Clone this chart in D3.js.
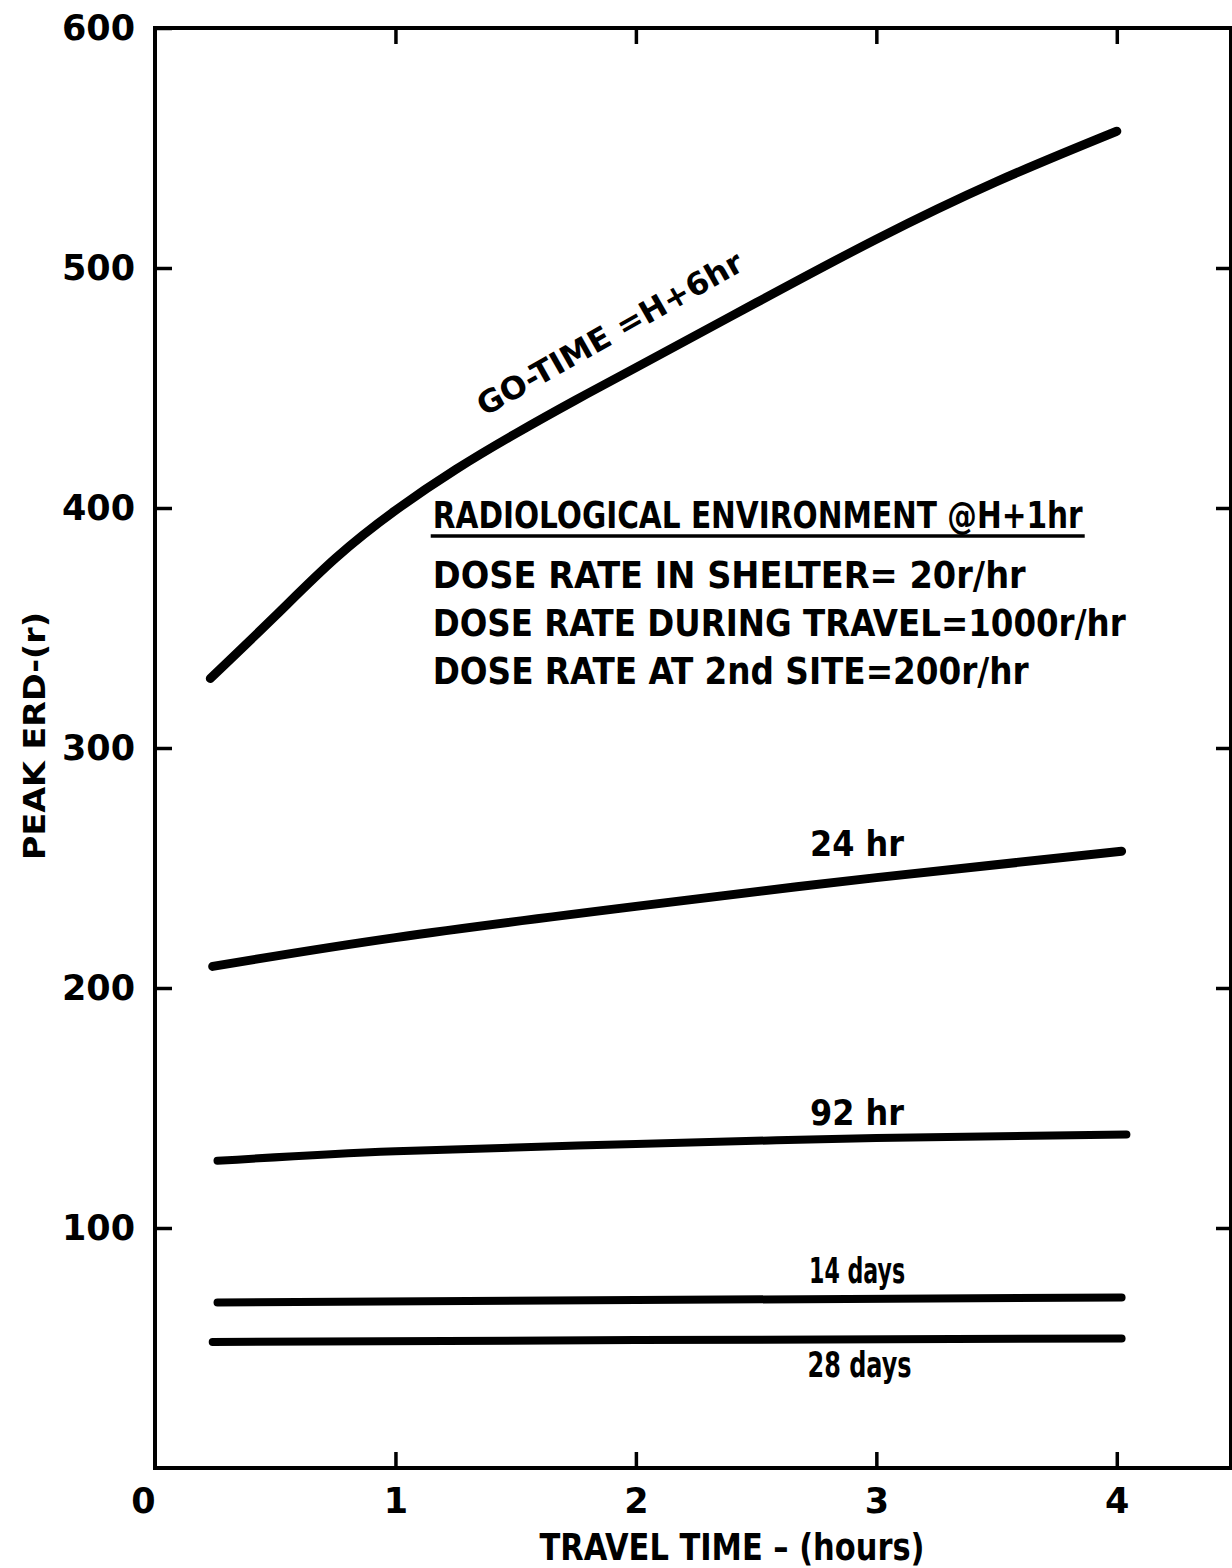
<!DOCTYPE html>
<html>
<head>
<meta charset="utf-8">
<script src="https://cdn.jsdelivr.net/npm/d3@7/dist/d3.min.js"></script>
<style>
  html, body { margin: 0; padding: 0; background: #fff; }
  svg { display: block; }
</style>
</head>
<body>
<svg id="chart" width="1232" height="1568"></svg>
<script>
// ---------------- DATA ----------------
const xTickValues = [0, 1, 2, 3, 4];
const xTickLabels = ["0", "1", "2", "3", "4"];
const yTickValues = [100, 200, 300, 400, 500, 600];
const yTickLabels = ["100", "200", "300", "400", "500", "600"];

const seriesNames = ["GO-TIME =H+6hr", "24 hr", "92 hr", "14 days", "28 days"];

const goTimeX = [0.23, 0.5, 0.75, 1.0, 1.25, 1.5, 1.75, 2.0, 2.5, 3.0, 3.5, 4.0];
const goTimeY = [329, 355, 379, 399, 416, 431, 445, 458.5, 485.5, 512, 536, 557];

const h24X = [0.24, 1.0, 2.0, 3.0, 4.02];
const h24Y = [209, 221, 234, 246, 257];

const h92X = [0.26, 1.0, 2.0, 3.0, 4.04];
const h92Y = [128, 132, 135, 137.5, 139];

const d14X = [0.26, 2.0, 4.02];
const d14Y = [69, 70, 71];

const d28X = [0.24, 2.0, 4.02];
const d28Y = [52.5, 53.3, 54];

const xTitle = "TRAVEL TIME – (hours)";
const yTitle = "PEAK ERD-(r)";
const noteLines = [
  "RADIOLOGICAL ENVIRONMENT @H+1hr",
  "DOSE RATE IN SHELTER= 20r/hr",
  "DOSE RATE DURING TRAVEL=1000r/hr",
  "DOSE RATE AT 2nd SITE=200r/hr"
];

// ---------------- CHART ----------------
const svg = d3.select("#chart");
const x = d3.scaleLinear().domain([0, 4.475]).range([155, 1231]);
const y = d3.scaleLinear().domain([0, 600]).range([1468, 28]);

const numFont = "'DejaVu Sans', 'Noto Sans', sans-serif";
const condFont = "'Liberation Sans Narrow', 'DejaVu Sans Condensed', 'Roboto Condensed', sans-serif";

// Frame
const frame = svg.append("g").attr("stroke", "#000").attr("stroke-width", 4).attr("fill", "none");
frame.append("path")
  .attr("d", `M${x(0)},${y(0)} L${x(0)},${y(600)} L${x(4.475)},${y(600)} L${x(4.475)},${y(0)} Z`)
  .attr("stroke-linejoin", "miter");

// Left axis (ticks pointing inward)
const yAxis = d3.axisLeft(y).tickValues(yTickValues)
  .tickFormat((d, i) => yTickLabels[i]).tickSize(-17).tickPadding(20);
const gy = svg.append("g").attr("transform", `translate(${x(0)},0)`).call(yAxis);
gy.select(".domain").remove();
gy.selectAll(".tick line").attr("stroke", "#000").attr("stroke-width", 3.5);
gy.selectAll(".tick text").attr("font-family", numFont).attr("font-weight", "bold")
  .attr("font-size", 35).attr("fill", "#000");

// Right ticks
const yAxisR = d3.axisRight(y).tickValues(yTickValues.slice(0, 5)).tickFormat("").tickSize(-15);
const gyr = svg.append("g").attr("transform", `translate(${x(4.475)},0)`).call(yAxisR);
gyr.select(".domain").remove();
gyr.selectAll(".tick line").attr("stroke", "#000").attr("stroke-width", 3.5);

// Bottom axis
const xAxis = d3.axisBottom(x).tickValues(xTickValues)
  .tickFormat((d, i) => xTickLabels[i]).tickSize(-16).tickPadding(20);
const gx = svg.append("g").attr("transform", `translate(0,${y(0)})`).call(xAxis);
gx.select(".domain").remove();
gx.selectAll(".tick line").attr("stroke", "#000").attr("stroke-width", 3.5);
gx.selectAll(".tick text").attr("font-family", numFont).attr("font-weight", "bold")
  .attr("font-size", 35).attr("fill", "#000");
gx.selectAll(".tick").filter(d => d === 0).select("text").attr("x", -12);
gx.selectAll(".tick").filter(d => d === 0).select("line").remove();

// Top ticks
const xAxisT = d3.axisTop(x).tickValues(xTickValues.slice(1)).tickFormat("").tickSize(-16);
const gxt = svg.append("g").attr("transform", `translate(0,${y(600)})`).call(xAxisT);
gxt.select(".domain").remove();
gxt.selectAll(".tick line").attr("stroke", "#000").attr("stroke-width", 3.5);

// Axis titles
svg.append("text").attr("x", 732).attr("y", 1560).attr("text-anchor", "middle")
  .attr("font-family", condFont).attr("font-weight", "bold").attr("font-size", 38)
  .attr("textLength", 385).attr("lengthAdjust", "spacingAndGlyphs").text(xTitle);
svg.append("text").attr("transform", "translate(45,736) rotate(-90)").attr("text-anchor", "middle")
  .attr("font-family", numFont).attr("font-weight", "bold").attr("font-size", 30)
  .attr("textLength", 248).attr("lengthAdjust", "spacingAndGlyphs").text(yTitle);

// Curves
const line = d3.line().x(d => x(d[0])).y(d => y(d[1])).curve(d3.curveNatural);
const series = [
  {xs: goTimeX, ys: goTimeY, w: 9},
  {xs: h24X, ys: h24Y, w: 9},
  {xs: h92X, ys: h92Y, w: 8},
  {xs: d14X, ys: d14Y, w: 8},
  {xs: d28X, ys: d28Y, w: 8}
];
svg.append("g").selectAll("path").data(series).join("path")
  .attr("d", s => line(s.xs.map((v, i) => [v, s.ys[i]])))
  .attr("fill", "none").attr("stroke", "#000")
  .attr("stroke-width", s => s.w).attr("stroke-linecap", "round").attr("stroke-linejoin", "round");

// Series labels
const labelPos = [
  null,
  {x: 2.92, y: 255, w: 94},
  {x: 2.92, y: 143, w: 94},
  {x: 2.92, y: 77, w: 96},
  {x: 2.93, y: 38, w: 104}
];
labelPos.forEach((p, i) => {
  if (!p) return;
  svg.append("text").attr("x", x(p.x)).attr("y", y(p.y)).attr("text-anchor", "middle")
    .attr("font-family", condFont).attr("font-weight", "bold").attr("font-size", 36)
    .attr("textLength", p.w).attr("lengthAdjust", "spacingAndGlyphs").text(seriesNames[i]);
});
// GO-TIME label (rotated along curve)
svg.append("text")
  .attr("transform", `translate(${x(1.37)},${y(438)}) rotate(-29.5)`)
  .attr("font-family", numFont).attr("font-weight", "bold").attr("font-size", 31)
  .attr("textLength", 300).attr("lengthAdjust", "spacingAndGlyphs").text(seriesNames[0]);

// Note block
const noteX = x(1.155);
const noteBase = [528, 588, 636, 684];
const noteW = [650, 593, 693, 596];
noteLines.forEach((t, i) => {
  svg.append("text").attr("x", noteX).attr("y", noteBase[i])
    .attr("font-family", condFont).attr("font-weight", "bold").attr("font-size", 38)
    .attr("textLength", noteW[i]).attr("lengthAdjust", "spacingAndGlyphs").text(t);
});
svg.append("line").attr("x1", noteX - 2).attr("x2", noteX + 652)
  .attr("y1", 536).attr("y2", 536).attr("stroke", "#000").attr("stroke-width", 3.5);
</script>
</body>
</html>
